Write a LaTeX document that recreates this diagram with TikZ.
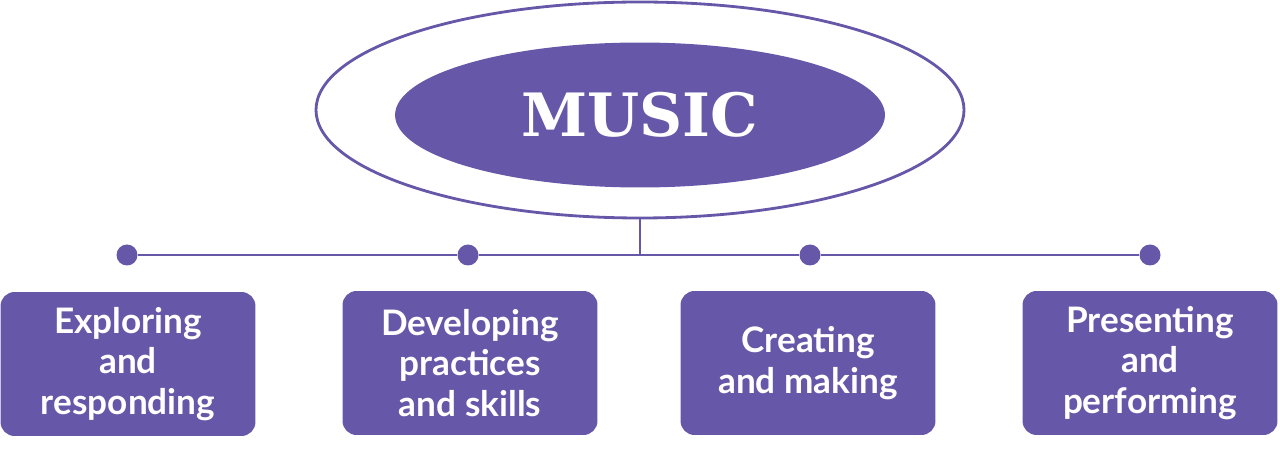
\documentclass[tikz,border=0pt]{standalone}
\usepackage{fontspec}
\setsansfont{Lato}
\newfontfamily\titlefont{DejaVu Serif}
\usetikzlibrary{shapes.geometric}
\definecolor{musicpurple}{HTML}{6757A8}
\tikzset{
  strand/.style={fill=musicpurple, rounded corners=8pt, text=white,
    minimum width=5.1cm, minimum height=2.88cm, align=center,
    font=\sffamily\bfseries\fontsize{20}{23}\selectfont},
  dot/.style={circle, fill=musicpurple, inner sep=0pt, minimum size=0.42cm},
  link/.style={draw=musicpurple, line width=1.2pt}
}
\begin{document}
\begin{tikzpicture}[x=0.02cm,y=-0.02cm]
  \useasboundingbox (0,0) rectangle (1280,472);

  \draw [link, line width=1.6pt] (640,110) ellipse [x radius=324, y radius=108];
  \node [ellipse, fill=musicpurple, minimum width=9.8cm, minimum height=2.9cm,
    text=white, font=\titlefont\bfseries\fontsize{34}{40}\selectfont] (music) at (640,115) {MUSIC};

  \coordinate (hub) at (640,255);
  \draw [link] (640,218) -- (hub);

  \node [dot] (d1) at (127,255) {};
  \node [dot] (d2) at (468,255) {};
  \node [dot] (d3) at (810,255) {};
  \node [dot] (d4) at (1150,255) {};
  \draw [link] (d1) -- (d2) -- (d3) -- (d4);

  \node [strand] (s1) at (128,364) {Exploring\\and\\responding};
  \node [strand] (s2) at (470,363) {Developing\\practices\\and skills};
  \node [strand] (s3) at (808,363) {Creating\\and making};
  \node [strand] (s4) at (1150,363) {Presenting\\and\\performing};
\end{tikzpicture}
\end{document}
